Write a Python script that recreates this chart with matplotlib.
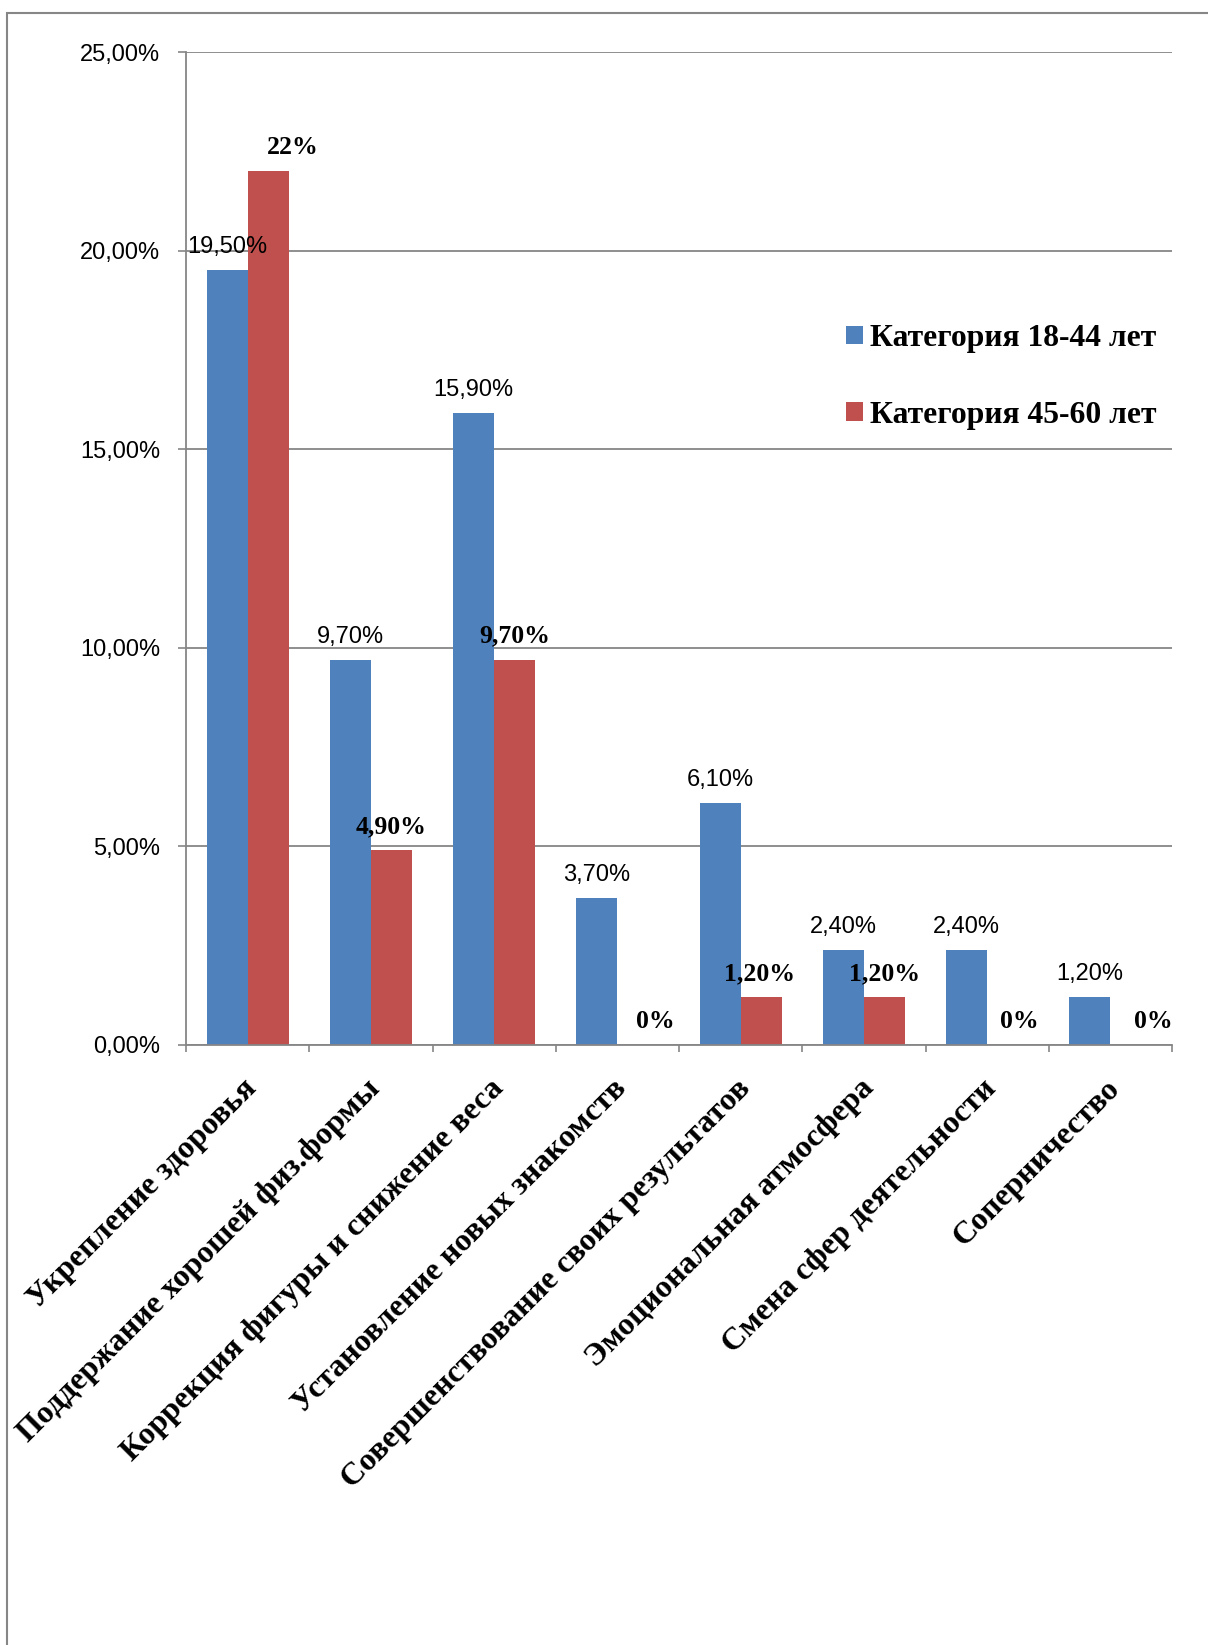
import matplotlib
matplotlib.use('Agg')
import matplotlib.pyplot as plt
import numpy as np
from matplotlib.patches import Rectangle, Patch

# ---- data ----
categories = [
    "Укрепление здоровья",
    "Поддержание хорошей физ.формы",
    "Коррекция фигуры и снижение веса",
    "Установление новых знакомств",
    "Совершенствование своих результатов",
    "Эмоциональная атмосфера",
    "Смена сфер деятельности",
    "Соперничество",
]
series_names = ["Категория 18-44 лет", "Категория 45-60 лет"]
young = [19.5, 9.7, 15.9, 3.7, 6.1, 2.4, 2.4, 1.2]
older = [22.0, 4.9, 9.7, 0.0, 1.2, 1.2, 0.0, 0.0]
young_labels = ["19,50%", "9,70%", "15,90%", "3,70%", "6,10%", "2,40%", "2,40%", "1,20%"]
older_labels = ["22%", "4,90%", "9,70%", "0%", "1,20%", "1,20%", "0%", "0%"]
yticks = [0, 5, 10, 15, 20, 25]
ytick_labels = ["0,00%", "5,00%", "10,00%", "15,00%", "20,00%", "25,00%"]

# ---- layout / style ----
W, H = 1208, 1645
PX = 72 / 100  # points per pixel
BLUE = "#4F81BD"
RED = "#C0504D"
GRAY = "#868686"
SANS = ["Liberation Sans", "DejaVu Sans"]
SERIF = ["Liberation Serif", "DejaVu Serif"]
red_label_shift_px = [25, 0, 0, 17, -2, 0, 12, 22]

fig = plt.figure(figsize=(W / 100, H / 100), dpi=100)
fig.patch.set_facecolor("white")
ax = fig.add_axes([186 / W, 1 - 1045 / H, (1172 - 186) / W, (1045 - 52) / H])

x = np.arange(len(categories))
width = 1 / 3
ax.bar(x - width / 2, young, width, color=BLUE, zorder=3)
ax.bar(x + width / 2, older, width, color=RED, zorder=3)

ax.set_xlim(-0.5, len(categories) - 0.5)
ax.set_ylim(0, 25)
ax.set_yticks(yticks)
ax.set_yticklabels(ytick_labels, fontfamily=SANS, fontsize=17)
ax.tick_params(axis="y", length=8 * PX, width=1.2, color=GRAY, pad=13, direction="out")

ax.set_xticks(np.arange(-0.5, len(categories), 1))
ax.set_xticklabels([])
ax.tick_params(axis="x", length=7 * PX, width=1.2, color=GRAY, direction="out")

ax.yaxis.grid(True, color=GRAY, lw=1.3, zorder=0)
ax.set_axisbelow(True)
for s in ["top", "right"]:
    ax.spines[s].set_visible(False)
for s in ["left", "bottom"]:
    ax.spines[s].set_color(GRAY)
    ax.spines[s].set_linewidth(1.3)
    ax.spines[s].set_zorder(4)

# category labels
for i, c in enumerate(categories):
    ax.annotate(c, xy=(i, 0), xycoords=("data", "axes fraction"),
                xytext=(-5 * PX, -29 * PX), textcoords="offset points",
                rotation=45, rotation_mode="anchor", ha="right", va="top",
                fontfamily=SERIF, fontweight="bold", fontsize=23, annotation_clip=False)

# data labels
for i, (v, lbl) in enumerate(zip(young, young_labels)):
    ax.annotate(lbl, xy=(i - width / 2, v), xytext=(0, 17 * PX), textcoords="offset points",
                ha="center", va="baseline", fontfamily=SANS, fontsize=17, annotation_clip=False)
for i, (v, lbl) in enumerate(zip(older, older_labels)):
    ax.annotate(lbl, xy=(i + width / 2, v), xytext=(red_label_shift_px[i] * PX, 17 * PX),
                textcoords="offset points", ha="center", va="baseline",
                fontfamily=SERIF, fontweight="bold", fontsize=18.5, annotation_clip=False)

# legend
handles = [Patch(facecolor=BLUE), Patch(facecolor=RED)]
fig.legend(handles, series_names, loc="center left", bbox_to_anchor=(846 / W, 1 - 377 / H),
           frameon=False, prop=dict(family=SERIF, weight="bold", size=22.8),
           handlelength=0.54, handleheight=0.54, handletextpad=0.22, labelspacing=1.5,
           borderpad=0, borderaxespad=0)

# outer chart border (clipped at right/bottom)
fig.add_artist(Rectangle((7 / W, -0.5), 2, 1 - 13 / H + 0.5, transform=fig.transFigure,
                         fill=False, edgecolor=GRAY, lw=1.5))

fig.savefig("out.png", dpi=100)
